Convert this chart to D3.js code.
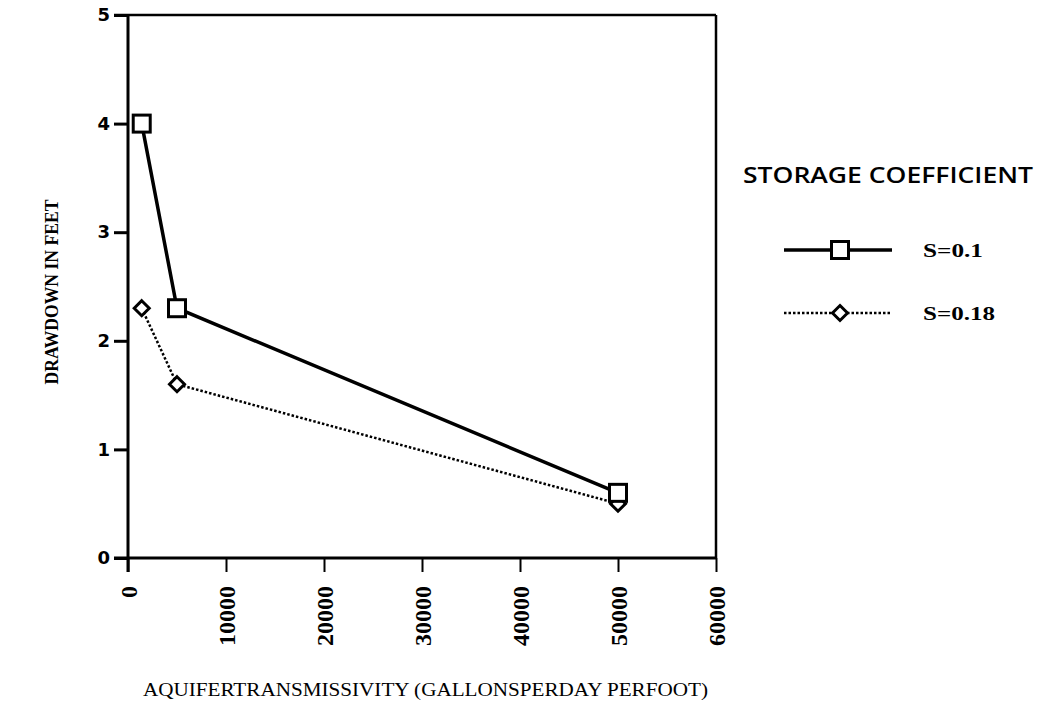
<!DOCTYPE html>
<html>
<head>
<meta charset="utf-8">
<script src="https://cdn.jsdelivr.net/npm/d3@7"></script>
<style>
  body { margin: 0; background: #fff; }
  svg { display: block; }
</style>
</head>
<body>
<div id="container"></div>
<script>
// canvas and plot box
var width = 1046;
var height = 701;
var plot = { left: 128, right: 716, top: 15, bottom: 558 };

//-----------------------------DATA------------------------------//
var transmissivity = [1400, 5000, 50000];
var drawdownS01 = [4.0, 2.3, 0.6];
var drawdownS018 = [2.3, 1.6, 0.5];
var seriesNames = ["S=0.1", "S=0.18"];
var xTicks = [0, 10000, 20000, 30000, 40000, 50000, 60000];
var yTicks = [0, 1, 2, 3, 4, 5];

var series = [
  { name: seriesNames[1], marker: "diamond", dash: "2.5,2", width: 2.5,
    values: transmissivity.map(function (t, i) { return { x: t, y: drawdownS018[i] }; }) },
  { name: seriesNames[0], marker: "square", dash: null, width: 3.5,
    values: transmissivity.map(function (t, i) { return { x: t, y: drawdownS01[i] }; }) }
];

var svg = d3.select("#container").append("svg")
  .attr("width", width)
  .attr("height", height)
  .style("background", "#fff");

//----------------------------SCALES-----------------------------//
var xScale = d3.scaleLinear().domain([0, 60000]).range([plot.left, plot.right]);
var yScale = d3.scaleLinear().domain([0, 5]).range([plot.bottom, plot.top]);

//-----------------------------AXES------------------------------//
var serif = "'Liberation Serif', 'Times New Roman', serif";

var yAxis = d3.axisLeft(yScale).tickValues(yTicks).tickSize(14).tickPadding(4)
  .tickFormat(d3.format("d"));
var gy = svg.append("g")
  .attr("transform", "translate(" + plot.left + ",0)")
  .call(yAxis);
gy.select(".domain").remove();
gy.selectAll(".tick line").attr("stroke", "#000").attr("stroke-width", 3);
gy.selectAll(".tick text")
  .style("font-family", "'DejaVu Sans', sans-serif")
  .style("font-weight", "bold")
  .style("font-size", "18px")
  .attr("fill", "#000");

var xAxis = d3.axisBottom(xScale).tickValues(xTicks).tickSize(14)
  .tickFormat(d3.format("d"));
var gx = svg.append("g")
  .attr("transform", "translate(0," + plot.bottom + ")")
  .call(xAxis);
gx.select(".domain").remove();
gx.selectAll(".tick line").attr("stroke", "#000").attr("stroke-width", 2);
gx.selectAll(".tick text")
  .attr("transform", "rotate(-90)")
  .attr("x", -28)
  .attr("y", 0)
  .attr("dy", "0.35em")
  .style("text-anchor", "end")
  .style("font-family", serif)
  .style("font-weight", "bold")
  .style("font-size", "24px")
  .attr("fill", "#000");

// frame
svg.append("line").attr("x1", plot.left).attr("x2", plot.left)
  .attr("y1", plot.top).attr("y2", plot.bottom + 14)
  .attr("stroke", "#000").attr("stroke-width", 3);
svg.append("line").attr("x1", plot.left - 14).attr("x2", plot.right)
  .attr("y1", plot.bottom).attr("y2", plot.bottom)
  .attr("stroke", "#000").attr("stroke-width", 3);
svg.append("line").attr("x1", plot.left - 14).attr("x2", plot.right)
  .attr("y1", plot.top).attr("y2", plot.top)
  .attr("stroke", "#000").attr("stroke-width", 2.5);
svg.append("line").attr("x1", plot.right).attr("x2", plot.right)
  .attr("y1", plot.top).attr("y2", plot.bottom)
  .attr("stroke", "#000").attr("stroke-width", 2.5);

// axis titles
svg.append("text")
  .attr("transform", "translate(58,292) rotate(-90)")
  .attr("textLength", 185)
  .attr("lengthAdjust", "spacingAndGlyphs")
  .style("text-anchor", "middle")
  .style("font-family", serif)
  .style("font-weight", "bold")
  .style("font-size", "18px")
  .text("DRAWDOWN IN FEET");

svg.append("text")
  .attr("x", 143)
  .attr("y", 696)
  .attr("textLength", 565)
  .attr("lengthAdjust", "spacingAndGlyphs")
  .style("font-family", serif)
  .style("font-size", "19px")
  .text("AQUIFERTRANSMISSIVITY (GALLONSPERDAY PERFOOT)");

//----------------------------LINES------------------------------//
var line = d3.line()
  .x(function (d) { return xScale(d.x); })
  .y(function (d) { return yScale(d.y); });

var diamondPath = "M0,-7.5L7.5,0L0,7.5L-7.5,0Z";

function drawMarker(g, type) {
  if (type === "square") {
    g.append("rect").attr("x", -8.5).attr("y", -8.5).attr("width", 17).attr("height", 17)
      .attr("fill", "#fff").attr("stroke", "#000").attr("stroke-width", 3);
  } else {
    g.append("path").attr("d", diamondPath)
      .attr("fill", "#fff").attr("stroke", "#000").attr("stroke-width", 3);
  }
}

var lines = svg.selectAll(".serie").data(series).enter().append("g").attr("class", "serie");

lines.append("path")
  .attr("d", function (d) { return line(d.values); })
  .attr("fill", "none")
  .attr("stroke", "#000")
  .attr("stroke-width", function (d) { return d.width; })
  .attr("stroke-dasharray", function (d) { return d.dash; });

lines.each(function (s) {
  d3.select(this).selectAll(".pt").data(s.values).enter().append("g")
    .attr("transform", function (d) { return "translate(" + xScale(d.x) + "," + yScale(d.y) + ")"; })
    .each(function () { drawMarker(d3.select(this), s.marker); });
});

//----------------------------LEGEND------------------------------//
svg.append("text")
  .attr("x", 743)
  .attr("y", 183)
  .attr("textLength", 290)
  .attr("lengthAdjust", "spacingAndGlyphs")
  .style("font-family", "'Open Sans', Lato, sans-serif")
  .style("font-weight", "600")
  .style("font-size", "22px")
  .text("STORAGE COEFFICIENT");

var legendRows = [series[1], series[0]].map(function (s, i) {
  return { s: s, y: 250 + i * 63 };
});

var leg = svg.selectAll(".leg").data(legendRows).enter().append("g")
  .attr("transform", function (d) { return "translate(0," + d.y + ")"; });

leg.append("line")
  .attr("x1", 784).attr("x2", 892).attr("y1", 0).attr("y2", 0)
  .attr("stroke", "#000")
  .attr("stroke-width", function (d) { return d.s.width; })
  .attr("stroke-dasharray", function (d) { return d.s.dash; });

leg.each(function (d) {
  var m = d3.select(this).append("g").attr("transform", "translate(840,0)");
  drawMarker(m, d.s.marker);
});

leg.append("text")
  .attr("x", 923)
  .attr("y", 7)
  .attr("textLength", function (d) { return d.s.name.length * 12; })
  .attr("lengthAdjust", "spacingAndGlyphs")
  .style("font-family", serif)
  .style("font-weight", "bold")
  .style("font-size", "18px")
  .text(function (d) { return d.s.name; });
</script>
</body>
</html>
